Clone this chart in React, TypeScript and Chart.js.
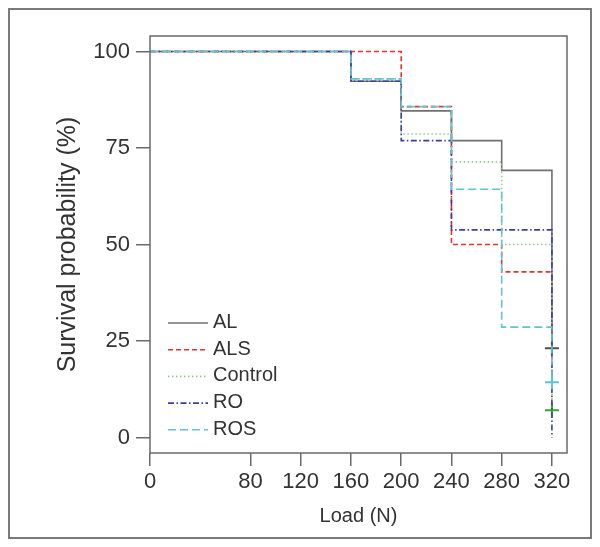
import React, { useEffect, useRef } from 'react';
import { Chart, registerables } from 'chart.js';

Chart.register(...registerables);

// ---- data ----
const loads = [0, 160, 200, 240, 280, 320];
const groups = ['AL', 'ALS', 'Control', 'RO', 'ROS'];
const alSurvival = [100, 92.3, 84.6, 76.9, 69.2, 23.1];
const alsSurvival = [100, 100, 85.7, 50, 42.9, 14.3];
const controlSurvival = [100, 92.9, 78.6, 71.4, 50, 7.1];
const roSurvival = [100, 92.3, 76.9, 53.8, 53.8, 0];
const rosSurvival = [100, 92.9, 85.7, 64.3, 28.6, 14.3];
const censoredAtEnd = [true, false, true, false, true];
const xTicks = [0, 80, 120, 160, 200, 240, 280, 320];
const yTicks = [0, 25, 50, 75, 100];

const series = [alSurvival, alsSurvival, controlSurvival, roSurvival, rosSurvival];

const lineColors = ['#707070', '#e2352c', '#8fcb8f', '#3f3f9b', '#5fc6d0'];
const markColors = ['#505050', '#e2352c', '#35a335', '#3f3f9b', '#5fc6d0'];
const dashes: number[][] = [[], [5, 3], [1.5, 2.5], [6, 2.5, 1.5, 2.5], [8, 4]];
const drawOrder = [3, 4, 2, 1, 0];

const FONT = '"Liberation Sans", Arial, sans-serif';
const TEXT = '#333333';
const AXIS = '#6a6a6a';

const framePlugin = {
  id: 'frameAndLegend',
  afterDatasetsDraw(chart: any) {
    const { ctx, chartArea } = chart;
    const { left, top, right, bottom } = chartArea;
    ctx.save();
    ctx.strokeStyle = AXIS;
    ctx.lineWidth = 1.5;
    ctx.setLineDash([]);
    ctx.strokeRect(left, top, right - left, bottom - top);

    // legend inside bottom-left of plot
    const x0 = left + 18;
    const x1 = left + 58;
    const rowH = 26.7;
    const y0 = bottom - 130;
    ctx.font = `20px ${FONT}`;
    ctx.textBaseline = 'middle';
    ctx.textAlign = 'left';
    groups.forEach((g, i) => {
      const y = y0 + i * rowH;
      ctx.beginPath();
      ctx.strokeStyle = lineColors[i];
      ctx.lineWidth = 1.6;
      ctx.setLineDash(dashes[i]);
      ctx.moveTo(x0, y);
      ctx.lineTo(x1, y);
      ctx.stroke();
      ctx.setLineDash([]);
      ctx.fillStyle = TEXT;
      ctx.fillText(g, x1 + 5, y - 0.5);
    });
    ctx.restore();
  },
};

export default function App() {
  const ref = useRef<HTMLCanvasElement | null>(null);

  useEffect(() => {
    if (!ref.current) return;
    const datasets = series.map((vals, i) => ({
      label: groups[i],
      data: vals.map((v, j) => ({ x: loads[j], y: v })),
      stepped: 'before' as const,
      borderColor: lineColors[i],
      borderWidth: 1.6,
      borderDash: dashes[i],
      fill: false,
      order: drawOrder[i],
      pointStyle: 'cross' as const,
      pointRadius: vals.map((_, j) => (censoredAtEnd[i] && j === vals.length - 1 ? 7 : 0)),
      pointBorderColor: markColors[i],
      pointBorderWidth: 2,
      pointHoverRadius: 0,
    }));

    const chart = new Chart(ref.current, {
      type: 'line',
      data: { datasets },
      plugins: [framePlugin],
      options: {
        responsive: false,
        animation: false,
        events: [],
        layout: { padding: { top: 36, right: 33, left: 0, bottom: 0 } },
        plugins: { legend: { display: false }, tooltip: { enabled: false } },
        scales: {
          x: {
            type: 'linear',
            min: 0,
            max: 332,
            afterBuildTicks: (s: any) => {
              s.ticks = xTicks.map((v) => ({ value: v }));
            },
            afterFit: (s: any) => {
              s.height = 94;
            },
            grid: {
              display: true,
              drawOnChartArea: false,
              drawTicks: true,
              tickLength: 13,
              color: AXIS,
              lineWidth: 1.5,
            },
            border: { display: false },
            ticks: {
              font: { family: FONT, size: 22 },
              color: TEXT,
              padding: 3,
              autoSkip: false,
              maxRotation: 0,
              callback: (v: any) => String(v),
            },
            title: {
              display: true,
              text: 'Load (N)',
              font: { family: FONT, size: 20 },
              color: TEXT,
              padding: { top: 0, bottom: 19 },
            },
          },
          y: {
            type: 'linear',
            min: -4,
            max: 104,
            afterBuildTicks: (s: any) => {
              s.ticks = yTicks.map((v) => ({ value: v }));
            },
            afterFit: (s: any) => {
              s.width = 150;
            },
            grid: {
              display: true,
              drawOnChartArea: false,
              drawTicks: true,
              tickLength: 14,
              color: AXIS,
              lineWidth: 1.5,
            },
            border: { display: false },
            ticks: {
              font: { family: FONT, size: 22 },
              color: TEXT,
              padding: 6,
              autoSkip: false,
              callback: (v: any) => String(v),
            },
            title: {
              display: true,
              text: 'Survival probability (%)',
              font: { family: FONT, size: 25 },
              color: TEXT,
              padding: { top: 53, bottom: 0 },
            },
          },
        },
      },
    });
    return () => chart.destroy();
  }, []);

  return (
    <div style={{ position: 'absolute', left: 0, top: 0, width: 600, height: 547 }}>
      <div
        style={{
          position: 'absolute',
          left: 8,
          top: 8,
          width: 584,
          height: 531,
          border: '2px solid #7a7a7a',
          boxSizing: 'border-box',
        }}
      />
      <canvas
        ref={ref}
        width={600}
        height={547}
        style={{ position: 'absolute', left: 0, top: 0, width: 600, height: 547 }}
      />
    </div>
  );
}
